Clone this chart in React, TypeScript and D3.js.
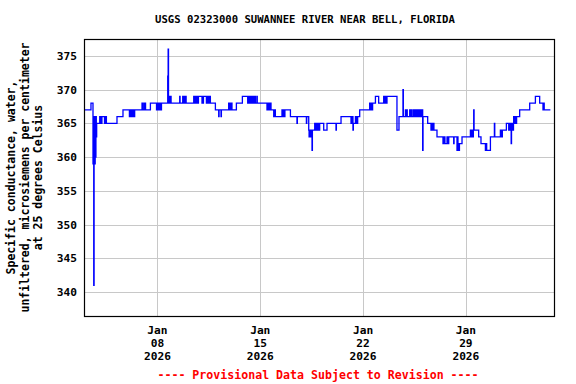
import React from 'react';
import * as d3 from 'd3';

const TITLE = 'USGS 02323000 SUWANNEE RIVER NEAR BELL, FLORIDA';
const Y_LABEL_LINES = [
  'Specific conductance, water,',
  'unfiltered, microsiemens per centimeter',
  'at 25 degrees Celsius',
];
const FOOTER = '---- Provisional Data Subject to Revision ----';
const Y_TICKS = [340, 345, 350, 355, 360, 365, 370, 375];
const X_TICK_DATES = ['2026-01-08', '2026-01-15', '2026-01-22', '2026-01-29'];
const X_DOMAIN = ['2026-01-03', '2026-02-04'];
const Y_DOMAIN = [336.44, 377.52];

// [hours since 2026-01-03 00:00, specific conductance µS/cm]
const readings: [number, number][] = [
  [0, 367], [11.4, 368],
  [14.7, 359], [15.3, 366], [15.9, 341], [16.5, 362], [17.1, 366], [17.7, 359], [18.3, 365], [18.9, 360], [19.5, 366], [20.1, 363], [20.7, 365],
  [25.7, 366], [26.6, 365], [27.5, 366], [28.4, 365], [29.3, 366], [33.5, 365], [34.3, 366], [35.1, 365], [35.9, 366], [36.6, 365],
  [53.9, 366], [63.7, 367],
  [74.2, 366], [75, 367], [75.8, 366], [76.6, 367], [77.4, 366], [78.2, 367], [79, 366], [79.8, 367], [80.6, 366], [81.4, 367], [82.2, 366], [82.8, 367],
  [94.8, 368], [95.4, 367], [97.6, 368], [98.2, 367], [98.8, 368], [99.4, 367], [100, 368], [100.6, 367],
  [108.5, 368],
  [118.5, 367], [119.4, 368], [120.3, 367], [121.2, 368], [122.1, 367], [123, 368], [123.9, 367], [124.8, 368], [125.7, 367], [126.6, 368],
  [136.8, 372], [137.5, 376], [138.1, 369], [138.7, 368], [139.3, 369], [139.9, 368], [140.5, 369], [141.1, 368], [141.7, 369], [142.3, 368],
  [156.4, 369], [157, 368],
  [161.3, 369], [162.1, 368], [162.9, 369], [163.7, 368], [164.5, 369], [165.3, 368], [166.1, 369], [166.9, 368],
  [179.3, 369], [180.1, 368], [180.9, 369], [181.7, 368], [182.5, 369], [183.3, 368], [184.1, 369], [184.9, 368], [185.7, 369], [186.5, 368], [187, 369],
  [192.8, 368], [193.6, 369], [194.4, 368], [195.2, 369],
  [200, 368], [200.8, 369], [201.6, 368], [202.4, 369], [203.2, 368], [204, 369], [204.8, 368], [205.6, 369], [206.5, 368],
  [214.7, 367], [220.1, 366], [220.7, 367], [223.9, 366], [224.5, 367],
  [236.4, 368], [237.2, 367], [238, 368], [238.8, 367], [239.6, 368], [240.4, 367], [241.2, 368], [241.8, 367],
  [249, 368], [258.8, 369],
  [267.5, 368], [268.3, 369], [269.1, 368], [269.9, 369], [270.7, 368], [271.5, 369], [272.3, 368], [273.1, 369], [274.7, 368], [275.5, 369], [276.3, 368], [277.1, 369], [277.9, 368], [278.7, 369], [280.1, 368],
  [282.5, 369], [283.1, 368],
  [299, 367], [299.8, 368], [300.6, 367], [301.4, 368], [302.2, 367], [303, 368], [303.8, 367], [304.6, 368], [305.6, 367],
  [310, 366], [310.6, 367], [311.3, 366], [311.9, 367], [312.7, 366],
  [323.5, 367], [324.3, 366], [325.1, 367], [325.9, 366], [326.7, 367], [327.5, 366], [328.3, 367],
  [337.3, 366], [348, 365], [348.6, 366], [363.4, 365], [364, 366],
  [367.2, 364], [367.8, 363], [368.6, 364], [369.4, 363], [370.2, 364], [371, 363], [371.8, 364], [372.6, 361], [373.2, 364],
  [377, 365], [377.8, 364], [378.6, 365], [379.4, 364], [380.2, 365], [381, 364], [381.8, 365], [382.6, 364], [383.4, 365], [384.2, 364], [385.1, 365],
  [391.7, 364], [397.1, 365], [411.8, 364], [412.4, 365], [420, 366],
  [436.3, 365], [437.1, 366], [437.9, 365], [438.7, 366], [439.5, 364], [440.1, 365],
  [443.5, 366], [444.3, 365], [445.1, 366], [445.9, 365], [447.2, 366], [450.5, 367],
  [466.8, 368], [467.6, 367], [468.4, 368], [469.2, 367], [470, 368], [470.8, 367], [471.6, 368],
  [476.2, 369], [481.5, 368],
  [489.7, 369], [490.5, 368], [491.3, 369], [492.1, 368], [492.9, 369], [493.7, 368], [495.1, 369],
  [511.4, 364], [514.7, 366], [521.2, 370], [521.8, 366],
  [525.2, 367], [525.8, 366], [526.4, 367], [527, 366], [527.6, 367], [528.2, 366],
  [532.2, 367], [532.8, 366], [533.4, 367], [534, 366], [534.6, 367], [535.2, 366],
  [537.6, 367], [538.4, 366], [539.2, 367], [540, 366], [540.8, 367], [541.6, 366], [542.4, 367], [543.2, 366], [544, 367], [544.8, 366], [545.6, 367], [546.4, 366], [547.2, 367], [548, 366],
  [549.7, 367], [550.4, 366], [551.1, 367], [551.8, 366], [552.3, 367],
  [553.4, 361], [554, 366], [561.6, 365],
  [567, 364], [567.8, 365], [568.6, 364], [569.4, 365], [570.2, 364], [571, 365], [571.8, 364],
  [576.8, 363],
  [586.6, 362], [587.4, 363], [588.2, 362], [589, 363], [589.8, 362], [593.2, 363], [594, 362], [594.8, 363], [595.5, 362], [596, 363],
  [604.1, 362], [604.7, 363],
  [609.5, 361], [610.3, 363], [611.1, 361], [611.9, 362], [612.7, 361], [613.5, 362],
  [617.7, 363],
  [631.4, 364], [632.2, 363], [633, 364], [633.8, 363], [634.6, 364], [635.4, 363], [636.2, 364], [636.8, 367], [637.4, 364],
  [644.9, 363], [648.7, 362], [655.9, 361], [657.5, 362], [658, 361], [664.1, 363],
  [670.6, 365], [671.2, 363],
  [680.4, 364], [681.2, 363], [682, 364], [682.8, 363], [683.6, 364],
  [690.2, 365],
  [694, 364], [694.8, 365], [695.6, 364], [696.4, 365], [697.2, 364], [698, 362], [698.6, 365], [699.4, 364], [700.2, 365], [701, 364], [701.8, 365],
  [702.1, 366], [702.9, 365], [703.7, 366], [704.5, 365], [705.3, 366], [706.1, 365], [706.9, 366],
  [711.9, 367], [728.3, 368], [737.6, 369], [744.6, 368], [750, 367], [751.1, 368], [752, 367], [762.1, 367],
];

const FONT = '"DejaVu Sans Mono", "Liberation Mono", monospace';
const START = Date.parse(X_DOMAIN[0] + 'T00:00:00Z');

export default function App() {
  const left = 84, right = 554, top = 39, bottom = 316;
  const x = d3.scaleUtc()
    .domain(X_DOMAIN.map((d) => new Date(d + 'T00:00:00Z')))
    .range([left, right]);
  const y = d3.scaleLinear().domain(Y_DOMAIN).range([bottom, top]);
  const line = d3.line<[number, number]>()
    .x((d) => x(new Date(START + d[0] * 3600e3)))
    .y((d) => y(d[1]))
    .curve(d3.curveStepAfter);
  const monthFmt = d3.utcFormat('%b');
  const dayFmt = d3.utcFormat('%d');
  const yearFmt = d3.utcFormat('%Y');
  const ylCenter = (top + bottom) / 2;
  const ylX = [15, 29, 42];

  return (
    <svg width={576} height={384} style={{ position: 'absolute', left: 0, top: 0, background: '#fff' }}>
      <rect x={0} y={0} width={576} height={384} fill="#fff" />
      <text x={305} y={23} textAnchor="middle" fontFamily={FONT} fontWeight="bold" fontSize={10.6} fill="#000">{TITLE}</text>
      {Y_TICKS.map((t) => (
        <g key={'y' + t}>
          <line x1={left} x2={right} y1={Math.round(y(t)) + 0.5} y2={Math.round(y(t)) + 0.5} stroke="#c8c8c8" strokeWidth={1} />
          <text x={77} y={y(t) + 4} textAnchor="end" fontFamily={FONT} fontWeight="bold" fontSize={11.2} fill="#000">{t}</text>
        </g>
      ))}
      {X_TICK_DATES.map((s) => {
        const d = new Date(s + 'T00:00:00Z');
        const xx = Math.round(x(d)) + 0.5;
        return (
          <g key={s}>
            <line x1={xx} x2={xx} y1={top} y2={bottom} stroke="#c8c8c8" strokeWidth={1} />
            <text x={x(d)} textAnchor="middle" fontFamily={FONT} fontWeight="bold" fontSize={11.2} fill="#000">
              <tspan x={x(d)} y={334}>{monthFmt(d)}</tspan>
              <tspan x={x(d)} y={347}>{dayFmt(d)}</tspan>
              <tspan x={x(d)} y={360}>{yearFmt(d)}</tspan>
            </text>
          </g>
        );
      })}
      <path d={line(readings) || ''} fill="none" stroke="#0000ff" strokeWidth={1.3} />
      <rect x={left + 0.5} y={top + 0.5} width={right - left} height={bottom - top} fill="none" stroke="#000" strokeWidth={1.2} />
      {Y_LABEL_LINES.map((s, i) => (
        <text key={s} transform={`translate(${ylX[i]},${ylCenter}) rotate(-90)`} textAnchor="middle" fontFamily={FONT} fontWeight="bold" fontSize={11.5} fill="#000">{s}</text>
      ))}
      <text x={318} y={379} textAnchor="middle" fontFamily={FONT} fontWeight="bold" fontSize={11.6} fill="#ff0000">{FOOTER}</text>
    </svg>
  );
}
